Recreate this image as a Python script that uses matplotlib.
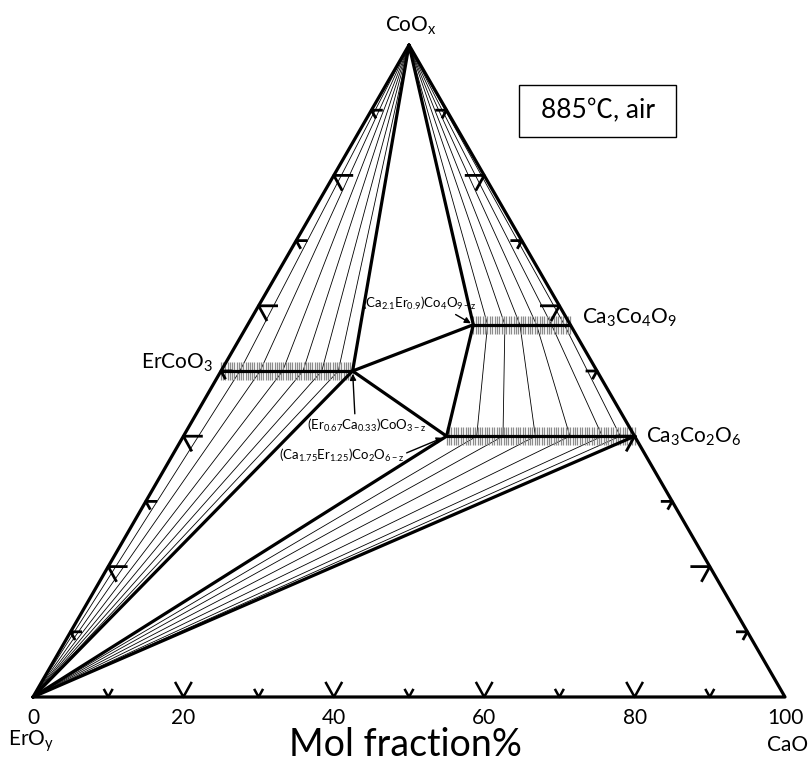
import numpy as np
import matplotlib.pyplot as plt
from matplotlib.patches import Rectangle

plt.rcParams['font.family'] = ['Lato', 'DejaVu Sans']
plt.rcParams['mathtext.fontset'] = 'custom'
plt.rcParams['mathtext.rm'] = 'Lato'
plt.rcParams['mathtext.it'] = 'Lato:italic'

# compositions in mol% as (CaO, CoOx); ErOy is the rest
co_top = (0, 100)
er_corner = (0, 0)
ca_corner = (100, 0)
erco3 = (0, 50)             # ErCoO3
er_ss = (17.5, 50)          # (Er0.67Ca0.33)CoO3-z
ca349_ss = (30, 57.1)       # (Ca2.1Er0.9)Co4O9-z
ca349 = (42.9, 57.1)        # Ca3Co4O9
ca326_ss = (35, 40)         # (Ca1.75Er1.25)Co2O6-z
ca326 = (60, 40)            # Ca3Co2O6

# tie lines, CaO % where they cross each solid-solution line
tie_erco3 = [2.5, 5.2, 8.2, 10.9, 13.4, 15.6]
tie_ca349 = [31.9, 34.2, 36.2, 38.4, 40.4, 42.1]
tie_ca326 = [39.0, 42.5, 46.8, 51.4, 55.7, 58.1]

# edge ticks (mol %)
edge_ticks = [10, 20, 30, 40, 50, 60, 70, 80, 90]
base_labels = [0, 20, 40, 60, 80, 100]


def xy(ca, co):
    return ca + co / 2.0, co


fig = plt.figure(figsize=(8.11, 7.62), dpi=100)
ax = fig.add_axes([33 / 811, 65 / 762, 752 / 811, 652 / 762])
ax.set_xlim(0, 100)
ax.set_ylim(0, 100)
ax.axis('off')

PX = 100 / 752.0   # data units per pixel
PY = 100 / 652.0
UX, UY = 0.4845, 0.875   # edge direction in pixels


def seg(pts, lw=2.3, color='k', z=3):
    xs, ys = zip(*[xy(*p) for p in pts])
    ax.plot(xs, ys, color=color, lw=lw, zorder=z, solid_capstyle='round',
            solid_joinstyle='round', clip_on=False)


def hatch(p, q, n):
    x1, y1 = xy(*p)
    x2, y2 = xy(*q)
    ax.plot(np.linspace(x1, x2, n), np.full(n, y1), ls='none', marker='|',
            ms=13, mew=0.9, color='0.55', zorder=2, clip_on=False)


# thin tie lines
for ca in tie_erco3:
    seg([co_top, (ca, erco3[1]), er_corner], lw=0.6, z=1)
for ca_a, ca_b in zip(tie_ca349, tie_ca326):
    seg([co_top, (ca_a, ca349[1]), (ca_b, ca326[1]), er_corner], lw=0.6, z=1)

# solid solution hatching
hatch(erco3, er_ss, 60)
hatch(ca349_ss, ca349, 42)
hatch(ca326_ss, ca326, 80)

# phase boundaries
seg([er_corner, ca_corner, co_top, er_corner])
seg([erco3, er_ss])
seg([ca349_ss, ca349])
seg([ca326_ss, ca326])
seg([co_top, er_ss, ca349_ss, co_top])
seg([er_ss, ca326_ss, ca349_ss])
seg([er_corner, er_ss])
seg([er_corner, ca326_ss])
seg([er_corner, ca326])

# edge ticks
for c in edge_ticks:
    big = c % 20 == 0
    lh, ld, lb = (18, 16, 16) if big else (10, 8, 8)
    # left edge
    x0, y0 = xy(0, c)
    ax.plot([x0 + lh * PX, x0, x0 + UX * ld * PX], [y0, y0, y0 - UY * ld * PY],
            color='k', lw=2.0, zorder=4, clip_on=False)
    # right edge
    x0, y0 = xy(100 - c, c)
    ax.plot([x0 - lh * PX, x0, x0 - UX * ld * PX], [y0, y0, y0 - UY * ld * PY],
            color='k', lw=2.0, zorder=4, clip_on=False)
    # base
    x0, y0 = xy(c, 0)
    ax.plot([x0 - UX * lb * PX, x0, x0 + UX * lb * PX], [UY * lb * PY, 0, UY * lb * PY],
            color='k', lw=1.8, zorder=4, clip_on=False)

for v in base_labels:
    ax.text(v, -3.2, str(v), ha='center', va='center', fontsize=15)

ax.text(-0.3, -6.8, 'ErO$_\\mathrm{y}$', ha='center', va='center', fontsize=15)
ax.text(100.3, -7.3, 'CaO', ha='center', va='center', fontsize=15)
ax.text(49.5, -7.3, 'Mol fraction%', ha='center', va='center', fontsize=27)

# compound labels
ax.text(50.2, 101.2, 'CoO$_\\mathrm{x}$', ha='center', va='bottom', fontsize=15)
ax.text(73.0, 58.1, 'Ca$_3$Co$_4$O$_9$', ha='left', va='center', fontsize=15)
ax.text(81.5, 39.9, 'Ca$_3$Co$_2$O$_6$', ha='left', va='center', fontsize=15)
ax.text(23.9, 51.2, 'ErCoO$_3$', ha='right', va='center', fontsize=15)

# solid solution labels with arrows
arrow = dict(arrowstyle='-|>', color='k', lw=1.0, mutation_scale=9)
ax.annotate('(Ca$_{2.1}$Er$_{0.9}$)Co$_4$O$_{\\mathrm{9-z}}$', xy=xy(*ca349_ss),
            xytext=(51.3, 60.4), ha='center', va='center', fontsize=9.5,
            arrowprops=dict(arrow, shrinkA=0, shrinkB=2, relpos=(0.78, 0.0)))
ax.annotate('(Er$_{0.67}$Ca$_{0.33}$)CoO$_{\\mathrm{3-z}}$', xy=xy(*er_ss),
            xytext=(44.4, 41.7), ha='center', va='center', fontsize=9.5,
            arrowprops=dict(arrow, shrinkA=0, shrinkB=2, relpos=(0.4, 1.0)))
ax.annotate('(Ca$_{1.75}$Er$_{1.25}$)Co$_2$O$_{\\mathrm{6-z}}$', xy=xy(*ca326_ss),
            xytext=(41.0, 37.0), ha='center', va='center', fontsize=9.5,
            arrowprops=dict(arrow, shrinkA=0, shrinkB=3, relpos=(1.0, 0.6)))

# condition box
ax.add_patch(Rectangle((64.6, 85.9), 20.9, 8.0, fill=False, ec='k', lw=1.0,
                       clip_on=False))
ax.text(75.1, 89.9, '885℃, air', ha='center', va='center', fontsize=19,
        family=['Lato', 'Noto Sans CJK SC', 'DejaVu Sans'])

fig.savefig('out.png', dpi=100)
